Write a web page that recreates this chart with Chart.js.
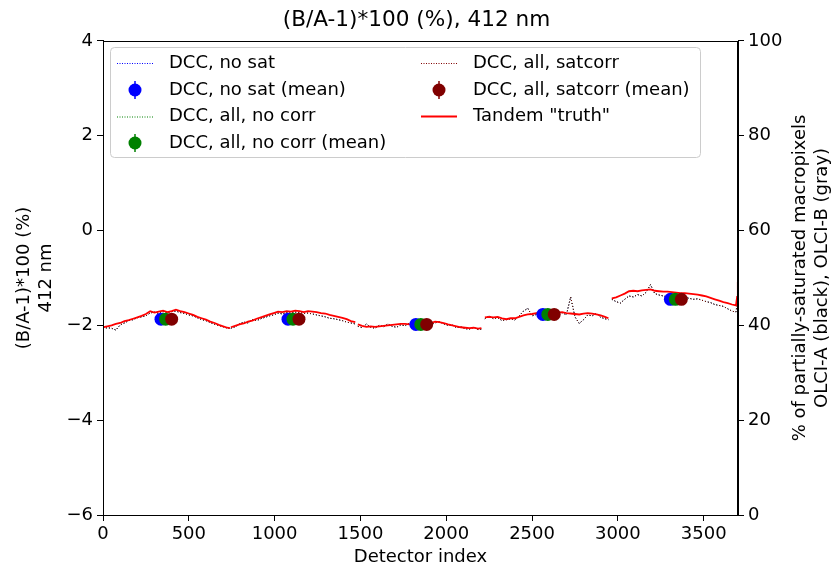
<!DOCTYPE html>
<html><head><meta charset="utf-8">
<script src="https://cdn.jsdelivr.net/npm/chart.js@4.4.1/dist/chart.umd.min.js"></script>
<style>html,body{margin:0;padding:0;background:#fff}#wrap{width:833px;height:569px;position:relative}canvas{display:block}</style>
</head><body><div id="wrap"><canvas id="c" width="833" height="569"></canvas></div>
<script>
// ---- data ----
const titleText = "(B/A-1)*100 (%), 412 nm";
const xTitle = "Detector index";
const yTitle = ["(B/A-1)*100 (%)", "412 nm"];
const y2Title = ["% of partially-saturated macropixels", "OLCI-A (black), OLCI-B (gray)"];

// detector indices (null values in the series mark the camera gaps)
const detector = [
  0,25,50,75,100,125,150,175,200,225,250,275,300,325,350,375,400,425,450,475,500,525,550,575,600,625,650,675,700,725,739,
  740,
  745,770,795,820,845,870,895,920,945,970,995,1020,1045,1070,1095,1120,1145,1170,1195,1220,1245,1270,1295,1320,1345,1370,1395,1420,1445,1470,
  1480,
  1485,1510,1535,1560,1585,1610,1635,1660,1685,1710,1735,1760,1785,1810,1835,1860,1885,1910,1935,1960,1985,2010,2035,2060,2085,2110,2135,2160,2185,2205,
  2215,
  2225,2250,2275,2300,2325,2350,2375,2400,2425,2450,2475,2500,2525,2550,2575,2600,2625,2650,2675,2700,2725,2750,2775,2800,2825,2850,2875,2900,2925,2945,
  2955,
  2965,2990,3015,3040,3065,3090,3115,3140,3165,3190,3215,3240,3265,3290,3315,3340,3365,3390,3415,3440,3465,3490,3515,3540,3565,3590,3615,3640,3665,3688,3695,3699
];

const tandemTruth = [
  -2.04,-2.02,-2.00,-1.97,-1.95,-1.91,-1.89,-1.86,-1.83,-1.80,-1.76,-1.70,-1.73,-1.71,-1.69,-1.72,-1.70,-1.67,-1.70,-1.72,-1.75,-1.78,-1.82,-1.85,-1.88,-1.92,-1.95,-1.99,-2.02,-2.05,-2.06,
  null,
  -2.04,-2.01,-1.98,-1.96,-1.92,-1.90,-1.86,-1.83,-1.80,-1.77,-1.74,-1.71,-1.72,-1.70,-1.71,-1.69,-1.70,-1.72,-1.70,-1.71,-1.72,-1.74,-1.75,-1.78,-1.80,-1.82,-1.84,-1.87,-1.91,-1.93,
  null,
  -1.98,-2.01,-2.03,-2.02,-2.03,-2.02,-2.01,-2.00,-1.99,-1.98,-1.97,-1.97,-1.98,-1.97,-1.98,-1.96,-1.96,-1.95,-1.92,-1.93,-1.95,-1.98,-2.00,-2.02,-2.04,-2.05,-2.06,-2.05,-2.07,-2.06,
  null,
  -1.83,-1.82,-1.83,-1.82,-1.85,-1.87,-1.85,-1.85,-1.82,-1.79,-1.77,-1.76,-1.74,-1.73,-1.72,-1.73,-1.72,-1.73,-1.72,-1.74,-1.75,-1.76,-1.77,-1.75,-1.74,-1.75,-1.77,-1.79,-1.82,-1.85,
  null,
  -1.43,-1.41,-1.37,-1.33,-1.28,-1.27,-1.28,-1.26,-1.25,-1.24,-1.27,-1.28,-1.29,-1.29,-1.30,-1.31,-1.32,-1.32,-1.33,-1.34,-1.35,-1.37,-1.39,-1.42,-1.45,-1.48,-1.51,-1.53,-1.56,-1.58,-1.40,-1.08
];

const dccSatCorr = [
  -2.07,-2.05,-2.06,-2.10,-1.99,-1.95,-1.90,-1.88,-1.84,-1.82,-1.80,-1.74,-1.72,-1.75,-1.71,-1.73,-1.71,-1.70,-1.73,-1.75,-1.78,-1.80,-1.84,-1.88,-1.90,-1.94,-1.98,-2.00,-2.03,-2.06,-2.06,
  null,
  -2.06,-2.03,-1.97,-1.93,-1.95,-1.88,-1.90,-1.86,-1.83,-1.80,-1.78,-1.74,-1.76,-1.73,-1.74,-1.72,-1.73,-1.75,-1.74,-1.76,-1.78,-1.80,-1.82,-1.85,-1.86,-1.88,-1.90,-1.93,-1.95,-1.97,
  null,
  -2.02,-2.05,-1.97,-2.04,-2.06,-2.00,-2.03,-1.97,-2.02,-2.04,-1.99,-2.01,-1.95,-2.00,-1.97,-1.93,-1.98,-1.96,-1.95,-1.92,-1.97,-2.00,-1.99,-2.05,-2.03,-2.07,-2.08,-2.04,-2.09,-2.08,
  null,
  -1.86,-1.80,-1.86,-1.84,-1.90,-1.88,-1.86,-1.89,-1.80,-1.70,-1.64,-1.80,-1.77,-1.75,-1.78,-1.76,-1.77,-1.75,-1.73,-1.78,-1.40,-1.82,-1.96,-1.88,-1.78,-1.80,-1.75,-1.83,-1.86,-1.88,
  null,
  -1.45,-1.50,-1.53,-1.45,-1.38,-1.40,-1.35,-1.38,-1.30,-1.14,-1.33,-1.36,-1.38,-1.40,-1.38,-1.36,-1.41,-1.40,-1.43,-1.45,-1.44,-1.47,-1.50,-1.52,-1.56,-1.58,-1.60,-1.65,-1.70,-1.72,-1.55,-1.12
];
// the no-sat and all/no-corr curves lie on top of the satcorr one in the picture
const dccNoSat = dccSatCorr.slice();
const dccAllNoCorr = dccSatCorr.slice();

// camera means
const meanIdxNoSat    = [338, 1078, 1823, 2563, 3306];
const meanIdxAllNoCorr= [365, 1107, 1852, 2592, 3335];
const meanIdxSatCorr  = [400, 1142, 1886, 2629, 3370];
const meanNoSat     = [-1.87, -1.87, -1.98, -1.77, -1.45];
const meanAllNoCorr = [-1.87, -1.87, -1.98, -1.77, -1.45];
const meanSatCorr   = [-1.87, -1.87, -1.98, -1.77, -1.45];

const xTicks = [0, 500, 1000, 1500, 2000, 2500, 3000, 3500];
const yTicks = [-6, -4, -2, 0, 2, 4];
const y2Ticks = [0, 20, 40, 60, 80, 100];

// ---- styles ----
const FONT = '"DejaVu Sans", "Liberation Sans", sans-serif';
const BLUE = '#0000ff', GREEN = '#008000', MAROON = '#800000', RED = '#ff0000';

const pts = (xs, ys) => xs.map((x, i) => ({x: x, y: ys[i]}));

const lineDs = (label, ys, color, dash, width) => ({
  type: 'line', label, data: pts(detector, ys), borderColor: color, backgroundColor: color,
  borderWidth: width, borderDash: dash, pointRadius: 0, spanGaps: false, tension: 0, fill: false
});
const meanDs = (label, xs, ys, color) => ({
  type: 'scatter', label, data: pts(xs, ys), borderColor: color, backgroundColor: color,
  pointRadius: 6.5, pointBorderWidth: 0, showLine: false
});

const datasets = [
  meanDs('DCC, all, satcorr (mean)', meanIdxSatCorr, meanSatCorr, MAROON),
  meanDs('DCC, all, no corr (mean)', meanIdxAllNoCorr, meanAllNoCorr, GREEN),
  meanDs('DCC, no sat (mean)', meanIdxNoSat, meanNoSat, BLUE),
  lineDs('Tandem "truth"', tandemTruth, RED, [], 1.8),
  lineDs('DCC, all, satcorr', dccSatCorr, MAROON, [1, 2], 1),
  lineDs('DCC, all, no corr', dccAllNoCorr, GREEN, [1, 2], 1),
  lineDs('DCC, no sat', dccNoSat, BLUE, [1, 2], 1)
];

const legendItems = [
  {col: 0, row: 0, kind: 'dot', color: BLUE, text: 'DCC, no sat'},
  {col: 0, row: 1, kind: 'mean', color: BLUE, text: 'DCC, no sat (mean)'},
  {col: 0, row: 2, kind: 'dot', color: GREEN, text: 'DCC, all, no corr'},
  {col: 0, row: 3, kind: 'mean', color: GREEN, text: 'DCC, all, no corr (mean)'},
  {col: 1, row: 0, kind: 'dot', color: MAROON, text: 'DCC, all, satcorr'},
  {col: 1, row: 1, kind: 'mean', color: MAROON, text: 'DCC, all, satcorr (mean)'},
  {col: 1, row: 2, kind: 'line', color: RED, text: 'Tandem "truth"'}
];

const decorPlugin = {
  id: 'decor',
  afterDraw(chart) {
    const c = chart.ctx, a = chart.chartArea;
    c.save();
    // frame (top + all spines)
    c.strokeStyle = '#000'; c.lineWidth = 1; c.setLineDash([]);
    c.strokeRect(Math.round(a.left) + 0.5, Math.round(a.top) + 0.5, Math.round(a.right - a.left) - 1, Math.round(a.bottom - a.top));
    // legend box
    const bx = 110.5, by = 47.5, bw = 590, bh = 110, r = 4;
    c.beginPath();
    c.moveTo(bx + r, by); c.lineTo(bx + bw - r, by); c.quadraticCurveTo(bx + bw, by, bx + bw, by + r);
    c.lineTo(bx + bw, by + bh - r); c.quadraticCurveTo(bx + bw, by + bh, bx + bw - r, by + bh);
    c.lineTo(bx + r, by + bh); c.quadraticCurveTo(bx, by + bh, bx, by + bh - r);
    c.lineTo(bx, by + r); c.quadraticCurveTo(bx, by, bx + r, by); c.closePath();
    c.fillStyle = 'rgba(255,255,255,0.85)'; c.fill();
    c.strokeStyle = '#cccccc'; c.stroke();
    const colX = [117, 421], handleW = 36, textGap = 16, rowY = [63, 90, 116.5, 143];
    c.font = '18px ' + FONT; c.textBaseline = 'middle'; c.textAlign = 'left';
    legendItems.forEach(it => {
      const x0 = colX[it.col], y = rowY[it.row];
      c.strokeStyle = it.color; c.fillStyle = it.color;
      if (it.kind === 'dot') {
        c.lineWidth = 1; c.setLineDash([1, 1.5]);
        c.beginPath(); c.moveTo(x0, y + 0.5); c.lineTo(x0 + handleW, y + 0.5); c.stroke();
      } else if (it.kind === 'line') {
        c.lineWidth = 1.8; c.setLineDash([]);
        c.beginPath(); c.moveTo(x0, y); c.lineTo(x0 + handleW, y); c.stroke();
      } else {
        c.setLineDash([]); c.lineWidth = 1.5;
        const cx = x0 + handleW / 2;
        c.beginPath(); c.moveTo(cx, y - 9); c.lineTo(cx, y + 9); c.stroke();
        c.beginPath(); c.arc(cx, y, 6.5, 0, Math.PI * 2); c.fill();
      }
      c.fillStyle = '#000';
      c.fillText(it.text, x0 + handleW + textGap, y);
    });
    // right axis title, read bottom-to-top like matplotlib
    c.fillStyle = '#000'; c.textAlign = 'center'; c.textBaseline = 'middle';
    const cy = (a.top + a.bottom) / 2;
    [800, 822].forEach((xx, i) => {
      c.save(); c.translate(xx, cy); c.rotate(-Math.PI / 2);
      c.fillText(y2Title[i], 0, 0); c.restore();
    });
    c.restore();
  }
};

const minus = v => String(v).replace('-', '\u2212');
const axisGrid = {drawOnChartArea: false, drawTicks: true, tickLength: 6, color: '#000', tickColor: '#000', lineWidth: 1};
const tickFont = {family: FONT, size: 18};

new Chart(document.getElementById('c'), {
  type: 'line',
  data: {datasets},
  options: {
    responsive: false, animation: false, events: [],
    layout: {padding: {left: 0, right: 0, top: 0, bottom: 0}},
    plugins: {
      legend: {display: false}, tooltip: {enabled: false},
      title: {display: true, text: titleText, color: '#000', font: {family: FONT, size: 21.6, weight: 'normal'}, padding: {top: 7, bottom: 8}}
    },
    scales: {
      x: {
        type: 'linear', min: 0, max: 3700, position: 'bottom',
        afterBuildTicks: s => { s.ticks = xTicks.map(v => ({value: v})); },
        ticks: {color: '#000', font: tickFont, padding: 3, maxRotation: 0, autoSkip: false, callback: v => String(v)},
        grid: axisGrid, border: {display: true, color: '#000', width: 1},
        title: {display: true, text: xTitle, color: '#000', font: {family: FONT, size: 18}, padding: {top: 0, bottom: 1}},
        afterFit: s => { s.height = 54; }
      },
      y: {
        type: 'linear', min: -6, max: 4, position: 'left',
        afterBuildTicks: s => { s.ticks = yTicks.map(v => ({value: v})); },
        ticks: {color: '#000', font: tickFont, padding: 4, callback: minus},
        grid: axisGrid, border: {display: true, color: '#000', width: 1},
        title: {display: true, text: yTitle, color: '#000', font: {family: FONT, size: 18}, padding: {top: 14, bottom: 0}},
        afterFit: s => { s.width = 103; }
      },
      y2: {
        type: 'linear', min: 0, max: 100, position: 'right',
        afterBuildTicks: s => { s.ticks = y2Ticks.map(v => ({value: v})); },
        ticks: {color: '#000', font: tickFont, padding: 4, callback: v => String(v)},
        grid: axisGrid, border: {display: true, color: '#000', width: 1},
        afterFit: s => { s.width = 95; }
      }
    }
  },
  plugins: [decorPlugin]
});
</script>
</body></html>
